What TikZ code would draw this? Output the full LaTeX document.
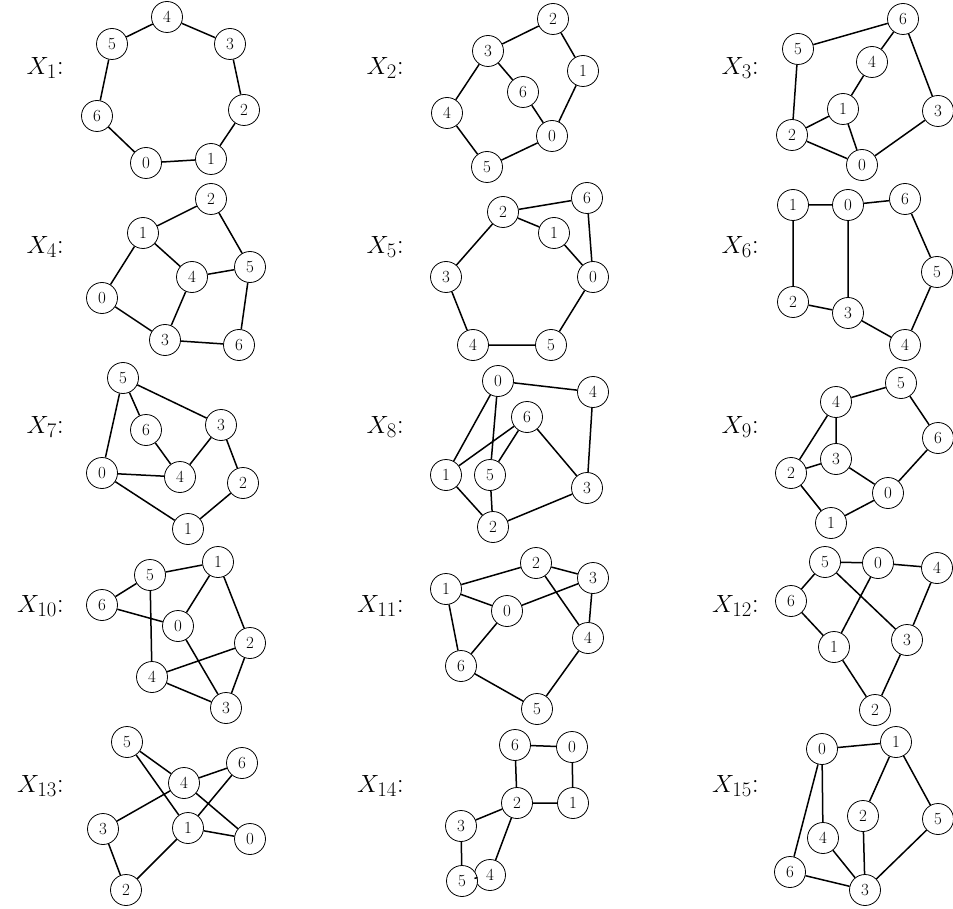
\documentclass[tikz,border=0pt]{standalone}
\begin{document}
\begin{tikzpicture}[x=1pt,y=-1pt,
  v/.style={circle,draw,line width=0.8pt,minimum size=31pt,inner sep=0pt,fill=white,font=\fontsize{17}{17}\selectfont},
  e/.style={line width=1.5pt},
  lab/.style={anchor=east,inner sep=0pt,font=\fontsize{28}{30}\selectfont}]
\useasboundingbox (0,0) rectangle (953,909);
% X1
\node[lab] (l1) at (64,68) {$X_{1}$:};
\node[v] (a4) at (167,17) {4};
\node[v] (a5) at (112,44) {5};
\node[v] (a3) at (230,44) {3};
\node[v] (a6) at (97,116) {6};
\node[v] (a2) at (244,110) {2};
\node[v] (a0) at (146,163) {0};
\node[v] (a1) at (211,159) {1};
\draw[e] (a4)--(a5) (a4)--(a3) (a5)--(a6) (a3)--(a2) (a6)--(a0) (a0)--(a1) (a1)--(a2);
% X2
\node[lab] (l2) at (404,68) {$X_{2}$:};
\node[v] (b2) at (553,19) {2};
\node[v] (b3) at (488,51) {3};
\node[v] (b1) at (583,71) {1};
\node[v] (b6) at (523,92) {6};
\node[v] (b4) at (447,113) {4};
\node[v] (b0) at (552,136) {0};
\node[v] (b5) at (487,167) {5};
\draw[e] (b3)--(b2) (b2)--(b1) (b3)--(b6) (b3)--(b4) (b6)--(b0) (b1)--(b0) (b4)--(b5) (b5)--(b0);
% X3
\node[lab] (l3) at (759,68) {$X_{3}$:};
\node[v] (c6) at (903,19) {6};
\node[v] (c5) at (798,49) {5};
\node[v] (c4) at (872,62) {4};
\node[v] (c1) at (843,109) {1};
\node[v] (c3) at (938,111) {3};
\node[v] (c2) at (792,135) {2};
\node[v] (c0) at (862,165) {0};
\draw[e] (c5)--(c6) (c6)--(c4) (c6)--(c3) (c4)--(c1) (c5)--(c2) (c2)--(c1) (c1)--(c0) (c2)--(c0) (c0)--(c3);
% X4
\node[lab] (l4) at (64,247) {$X_{4}$:};
\node[v] (d2) at (211,199) {2};
\node[v] (d1) at (143,233) {1};
\node[v] (d5) at (250,267) {5};
\node[v] (d4) at (192,277) {4};
\node[v] (d0) at (102,298) {0};
\node[v] (d3) at (165,340) {3};
\node[v] (d6) at (239,345) {6};
\draw[e] (d1)--(d2) (d2)--(d5) (d1)--(d4) (d4)--(d5) (d1)--(d0) (d0)--(d3) (d4)--(d3) (d3)--(d6) (d6)--(d5);
% X5
\node[lab] (l5) at (404,247) {$X_{5}$:};
\node[v] (e6) at (587,198) {6};
\node[v] (e2) at (503,212) {2};
\node[v] (e1) at (554,233) {1};
\node[v] (e3) at (446,277) {3};
\node[v] (e0) at (593,277) {0};
\node[v] (e4) at (473,345) {4};
\node[v] (e5) at (551,345) {5};
\draw[e] (e2)--(e6) (e2)--(e1) (e6)--(e0) (e1)--(e0) (e2)--(e3) (e3)--(e4) (e4)--(e5) (e5)--(e0);
% X6
\node[lab] (l6) at (759,247) {$X_{6}$:};
\node[v] (f1) at (793,205) {1};
\node[v] (f0) at (848,205) {0};
\node[v] (f6) at (905,199) {6};
\node[v] (f5) at (937,272) {5};
\node[v] (f2) at (793,302) {2};
\node[v] (f3) at (848,313) {3};
\node[v] (f4) at (905,345) {4};
\draw[e] (f1)--(f0) (f0)--(f6) (f1)--(f2) (f0)--(f3) (f2)--(f3) (f3)--(f4) (f4)--(f5) (f6)--(f5);
% X7
\node[lab] (l7) at (64,427) {$X_{7}$:};
\node[v] (g5) at (123,378) {5};
\node[v] (g6) at (146,430) {6};
\node[v] (g3) at (221,425) {3};
\node[v] (g0) at (102,473) {0};
\node[v] (g4) at (180,477) {4};
\node[v] (g2) at (243,483) {2};
\node[v] (g1) at (188,529) {1};
\draw[e] (g5)--(g0) (g5)--(g6) (g5)--(g3) (g6)--(g4) (g3)--(g4) (g0)--(g4) (g3)--(g2) (g0)--(g1) (g1)--(g2);
% X8
\node[lab] (l8) at (404,427) {$X_{8}$:};
\node[v] (h0) at (498,381) {0};
\node[v] (h4) at (593,392) {4};
\node[v] (h6) at (527,417) {6};
\node[v] (h1) at (446,475) {1};
\node[v] (h5) at (490,475) {5};
\node[v] (h3) at (587,488) {3};
\node[v] (h2) at (493,527) {2};
\draw[e] (h0)--(h4) (h0)--(h1) (h0)--(h5) (h6)--(h1) (h6)--(h5) (h6)--(h3) (h4)--(h3) (h1)--(h2) (h5)--(h2) (h2)--(h3);
% X9
\node[lab] (l9) at (759,427) {$X_{9}$:};
\node[v] (i5) at (901,383) {5};
\node[v] (i4) at (836,402) {4};
\node[v] (i6) at (938,438) {6};
\node[v] (i3) at (836,459) {3};
\node[v] (i2) at (791,473) {2};
\node[v] (i0) at (888,493) {0};
\node[v] (i1) at (831,523) {1};
\draw[e] (i4)--(i5) (i5)--(i6) (i4)--(i3) (i4)--(i2) (i2)--(i3) (i3)--(i0) (i6)--(i0) (i2)--(i1) (i1)--(i0);
% X10
\node[lab] (l10) at (64,606) {$X_{10}$:};
\node[v] (j1) at (218,562) {1};
\node[v] (j5) at (150,575) {5};
\node[v] (j6) at (102,605) {6};
\node[v] (j0) at (178,626) {0};
\node[v] (j2) at (250,643) {2};
\node[v] (j4) at (152,677) {4};
\node[v] (j3) at (226,708) {3};
\draw[e] (j5)--(j1) (j6)--(j5) (j6)--(j0) (j5)--(j4) (j1)--(j0) (j1)--(j2) (j0)--(j3) (j4)--(j2) (j4)--(j3) (j2)--(j3);
% X11
\node[lab] (l11) at (404,606) {$X_{11}$:};
\node[v] (k2) at (536,563) {2};
\node[v] (k3) at (593,578) {3};
\node[v] (k1) at (446,589) {1};
\node[v] (k0) at (507,611) {0};
\node[v] (k4) at (588,638) {4};
\node[v] (k6) at (461,666) {6};
\node[v] (k5) at (537,709) {5};
\draw[e] (k1)--(k2) (k2)--(k3) (k2)--(k4) (k3)--(k0) (k1)--(k0) (k3)--(k4) (k1)--(k6) (k0)--(k6) (k6)--(k5) (k5)--(k4);
% X12
\node[lab] (l12) at (759,606) {$X_{12}$:};
\node[v] (m5) at (825,562) {5};
\node[v] (m0) at (878,563) {0};
\node[v] (m4) at (937,568) {4};
\node[v] (m6) at (791,601) {6};
\node[v] (m1) at (834,647) {1};
\node[v] (m3) at (907,640) {3};
\node[v] (m2) at (875,710) {2};
\draw[e] (m5)--(m0) (m0)--(m4) (m5)--(m6) (m0)--(m1) (m5)--(m3) (m6)--(m1) (m4)--(m3) (m1)--(m2) (m3)--(m2);
% X13
\node[lab] (l13) at (64,786) {$X_{13}$:};
\node[v] (n5) at (127,742) {5};
\node[v] (n6) at (242,763) {6};
\node[v] (n4) at (184,783) {4};
\node[v] (n1) at (188,828) {1};
\node[v] (n3) at (103,829) {3};
\node[v] (n0) at (250,839) {0};
\node[v] (n2) at (126,890) {2};
\draw[e] (n5)--(n4) (n5)--(n1) (n4)--(n6) (n6)--(n1) (n4)--(n0) (n1)--(n0) (n4)--(n3) (n3)--(n2) (n2)--(n1);
% X14
\node[lab] (l14) at (404,786) {$X_{14}$:};
\node[v] (o6) at (515,745) {6};
\node[v] (o0) at (572,747) {0};
\node[v] (o2) at (517,803) {2};
\node[v] (o1) at (573,803) {1};
\node[v] (o3) at (461,826) {3};
\node[v] (o4) at (490,875) {4};
\node[v] (o5) at (462,881) {5};
\draw[e] (o6)--(o0) (o0)--(o1) (o6)--(o2) (o2)--(o1) (o2)--(o3) (o2)--(o4) (o3)--(o5) (o5)--(o4);
% X15
\node[lab] (l15) at (759,786) {$X_{15}$:};
\node[v] (p0) at (822,749) {0};
\node[v] (p1) at (896,742) {1};
\node[v] (p2) at (863,816) {2};
\node[v] (p5) at (938,819) {5};
\node[v] (p4) at (823,838) {4};
\node[v] (p6) at (790,872) {6};
\node[v] (p3) at (865,890) {3};
\draw[e] (p0)--(p1) (p0)--(p4) (p0)--(p6) (p1)--(p2) (p1)--(p5) (p2)--(p3) (p4)--(p3) (p6)--(p3) (p5)--(p3);
\end{tikzpicture}
\end{document}
